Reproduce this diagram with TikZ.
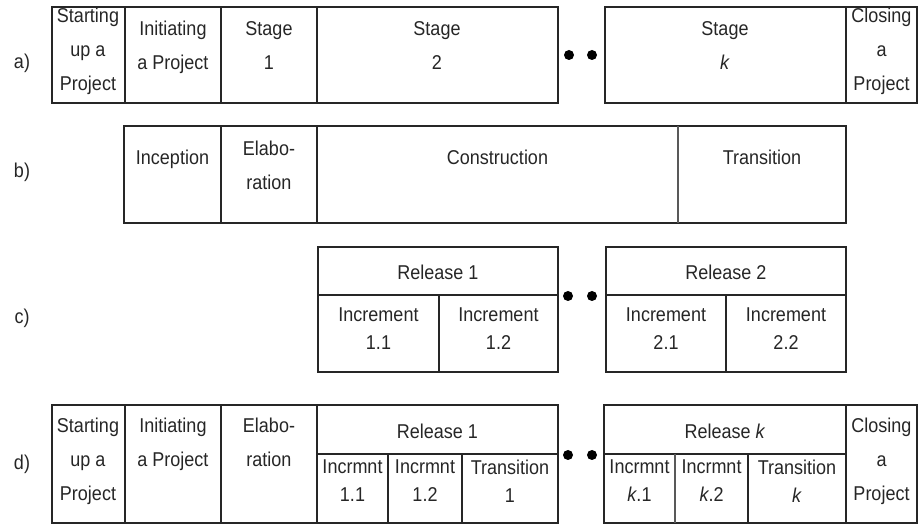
\documentclass[tikz,border=0pt]{standalone}
\usepackage{fontspec}
\setmainfont{Liberation Sans}[FakeStretch=0.9]
\begin{document}
\begin{tikzpicture}[x=1pt,y=-1pt,
  box/.style={draw=black!85, line width=1.4pt},
  sep/.style={draw=black!65, line width=1.4pt},
  txt/.style={font=\fontsize{20}{34}\selectfont, align=center, inner sep=0pt, anchor=north, text=black!85},
  txtc/.style={font=\fontsize{20}{28}\selectfont, align=center, inner sep=0pt, anchor=north, text=black!85},
  tag/.style={font=\fontsize{20}{22}\selectfont, inner sep=0pt, text=black!85},
  bullet/.style={circle, fill=black, minimum size=10pt, inner sep=0pt}]
\useasboundingbox (0,0) rectangle (919,526);

% ---------- row a ----------
\node[tag] (la) at (22,63) {a)};
\draw[box] (52,7) rectangle (558,103);
\draw[box] (125,7) -- (125,103) (221,7) -- (221,103) (317,7) -- (317,103);
\draw[box] (605,7) rectangle (917,103);
\draw[box] (846,7) -- (846,103);
\node[txt] (aS) at (88,8) {Starting\\up a\\Project};
\node[txt] (aI) at (173,21) {Initiating\\a Project};
\node[txt] (a1) at (269,21) {Stage\\1};
\node[txt] (a2) at (437,21) {Stage\\2};
\node[txt] (ak) at (725,21) {Stage\\\textit{k}};
\node[txt] (aC) at (881.5,8) {Closing\\a\\Project};
\node[bullet] (ad1) at (569,55) {};
\node[bullet] (ad2) at (592,55) {};

% ---------- row b ----------
\node[tag] (lb) at (22,172) {b)};
\draw[box] (124,126) rectangle (846,223);
\draw[box] (221,126) -- (221,223) (317,126) -- (317,223);
\draw[sep] (678,126) -- (678,223);
\node[txt] (bI) at (172.5,149.5) {Inception};
\node[txt] (bE) at (269,141) {Elabo-\\ration};
\node[txt] (bC) at (497.5,149.5) {Construction};
\node[txt] (bT) at (762,149.5) {Transition};

% ---------- row c ----------
\node[tag] (lc) at (22,318) {c)};
\draw[box] (318,247) rectangle (558,372);
\draw[box] (318,295) -- (558,295) (439,295) -- (439,372);
\draw[box] (606,247) rectangle (846,372);
\draw[box] (606,295) -- (846,295) (726,295) -- (726,372);
\node[txt] (c1) at (438,265) {Release 1};
\node[txtc] (c11) at (378.5,308) {Increment\\1.1};
\node[txtc] (c12) at (498.5,308) {Increment\\1.2};
\node[txt] (c2) at (726,265) {Release 2};
\node[txtc] (c21) at (666,308) {Increment\\2.1};
\node[txtc] (c22) at (786,308) {Increment\\2.2};
\node[bullet] (cd1) at (568,296) {};
\node[bullet] (cd2) at (592,296) {};

% ---------- row d ----------
\node[tag] (ld) at (22,464) {d)};
\draw[box] (52,405) rectangle (558,523);
\draw[box] (125,405) -- (125,523) (221,405) -- (221,523) (317,405) -- (317,523);
\draw[box] (317,454) -- (558,454) (388,454) -- (388,523) (462,454) -- (462,523);
\draw[box] (604,405) rectangle (917,523);
\draw[box] (846,405) -- (846,523);
\draw[box] (604,454) -- (846,454) (748,454) -- (748,523);
\draw[sep] (675,454) -- (675,523);
\node[txt] (dS) at (88,418) {Starting\\up a\\Project};
\node[txt] (dI) at (173,418) {Initiating\\a Project};
\node[txt] (dE) at (269,418) {Elabo-\\ration};
\node[txt] (d1) at (437.5,424) {Release 1};
\node[txtc] (d11) at (352.5,460) {Incrmnt\\1.1};
\node[txtc] (d12) at (425,460) {Incrmnt\\1.2};
\node[txtc] (d1T) at (510,460) {Transition\\1};
\node[txt] (dk) at (725,424) {Release \textit{k}};
\node[txtc] (dk1) at (639.5,460) {Incrmnt\\\textit{k}.1};
\node[txtc] (dk2) at (711.5,460) {Incrmnt\\\textit{k}.2};
\node[txtc] (dkT) at (797,460) {Transition\\\textit{k}};
\node[txt] (dC) at (881.5,418) {Closing\\a\\Project};
\node[bullet] (dd1) at (568,455) {};
\node[bullet] (dd2) at (592,455) {};
\end{tikzpicture}
\end{document}
